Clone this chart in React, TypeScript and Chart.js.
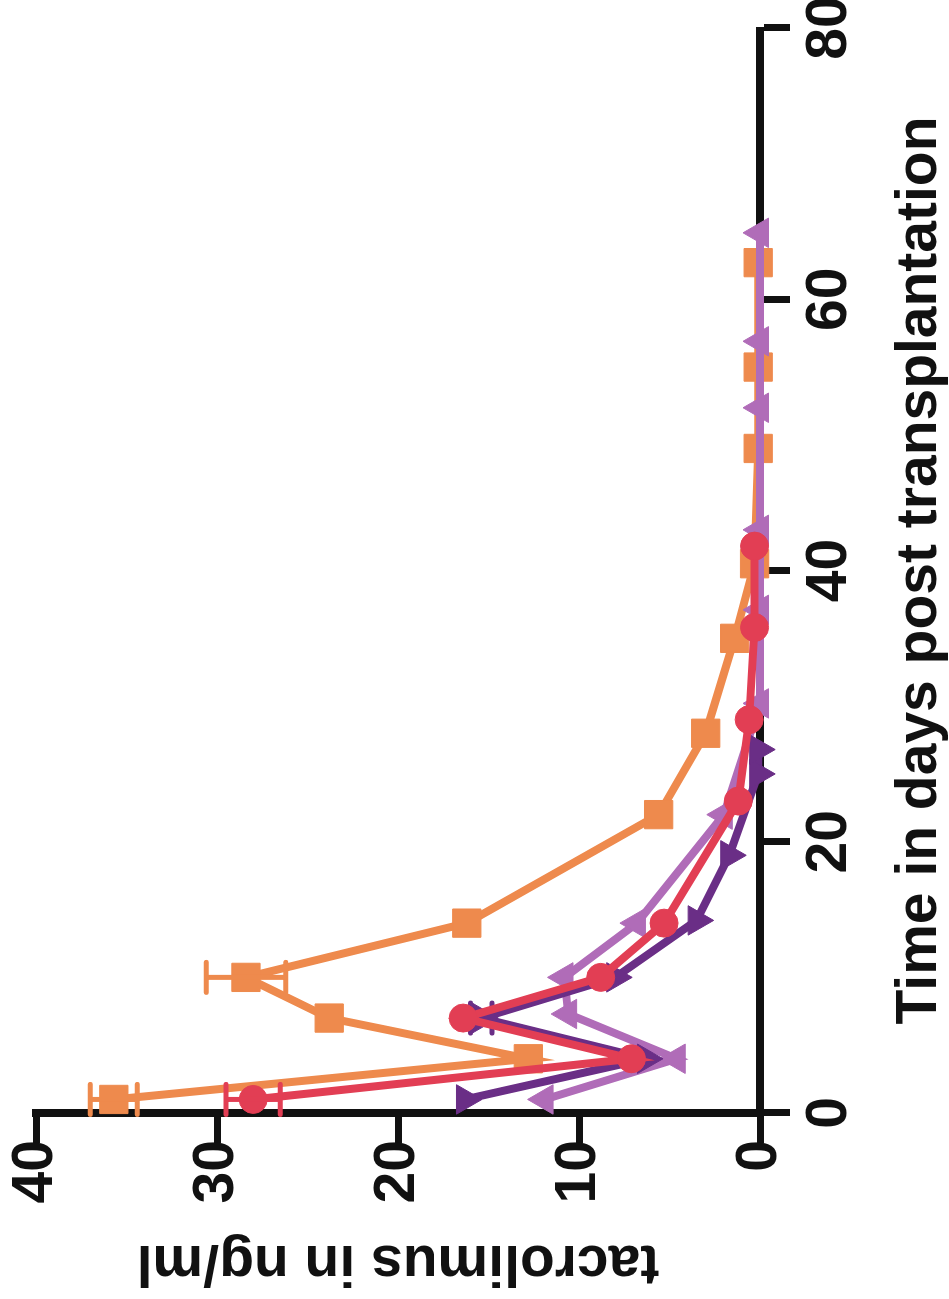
import { useEffect, useRef } from "react";
import { Chart, registerables } from "chart.js";

Chart.register(...registerables);

// ---- data (days post transplantation, tacrolimus ng/ml) ----
const orangeDays = [1, 4, 7, 10, 14, 22, 28, 35, 40.5, 49, 55, 62.7];
const orangeLevels = [35.7, 12.8, 23.8, 28.4, 16.2, 5.6, 3.0, 1.4, 0.3, 0.1, 0.1, 0.1];
const orangeErrors = [1.3, 0, 0, 2.2, 0, 0, 0, 0, 0, 0, 0, 0];

const redDays = [1, 4, 7, 10, 14, 23, 29, 35.8, 41.8];
const redLevels = [28.0, 7.1, 16.4, 8.8, 5.3, 1.2, 0.6, 0.3, 0.3];
const redErrors = [1.5, 0, 0, 0, 0, 0, 0, 0, 0];

const darkPurpleDays = [1, 4, 7, 10, 14.2, 19, 25, 26.8];
const darkPurpleLevels = [16.3, 6.3, 15.4, 8.0, 3.5, 1.7, 0.1, 0.1];
const darkPurpleErrors = [0, 0, 0.6, 0, 0, 0, 0, 0];

const lightPurpleDays = [1, 4, 7.3, 10, 14, 22, 30.2, 37.1, 43, 52, 56.9, 64.9];
const lightPurpleLevels = [11.9, 4.6, 10.6, 10.8, 6.8, 2.0, 0, 0, 0, 0, 0, 0];

const timeTicks = [0, 20, 40, 60, 80];
const levelTicks = [0, 10, 20, 30, 40];

const ORANGE = "#EE8A4D";
const RED = "#E23E54";
const DARK_PURPLE = "#6A2E86";
const LIGHT_PURPLE = "#B06CB8";
const INK = "#111111";
const FONT = { family: "'Liberation Sans', Arial, Helvetica, sans-serif", size: 57, weight: "bold" as const };

const toPoints = (xs: number[], ys: number[]) => xs.map((x, i) => ({ x, y: ys[i] }));

const errorBarPlugin = {
  id: "errorBars",
  afterDatasetDraw(chart: any, args: any) {
    const ds = chart.data.datasets[args.index];
    if (!ds.errors) return;
    const yScale = chart.scales.y;
    const ctx = chart.ctx;
    ctx.save();
    ctx.strokeStyle = ds.borderColor;
    ctx.lineWidth = 5;
    ctx.lineCap = "round";
    args.meta.data.forEach((pt: any, i: number) => {
      const e = ds.errors[i];
      if (!e) return;
      const v = ds.data[i].y;
      const yTop = yScale.getPixelForValue(v + e);
      const yBot = yScale.getPixelForValue(v - e);
      const x = pt.x;
      ctx.beginPath();
      ctx.moveTo(x, yTop);
      ctx.lineTo(x, yBot);
      ctx.moveTo(x - 15, yTop);
      ctx.lineTo(x + 15, yTop);
      ctx.moveTo(x - 15, yBot);
      ctx.lineTo(x + 15, yBot);
      ctx.stroke();
    });
    ctx.restore();
  },
};

export default function App() {
  const canvasRef = useRef<HTMLCanvasElement | null>(null);

  useEffect(() => {
    if (!canvasRef.current) return;
    const common = {
      borderWidth: 8,
      tension: 0,
      clip: false as const,
      pointBorderWidth: 1,
      showLine: true,
    };
    const chart = new Chart(canvasRef.current, {
      type: "line",
      data: {
        datasets: [
          {
            ...common,
            label: "red",
            data: toPoints(redDays, redLevels),
            errors: redErrors,
            borderColor: RED,
            backgroundColor: RED,
            pointStyle: "circle",
            pointRadius: 14,
          } as any,
          {
            ...common,
            label: "darkPurple",
            data: toPoints(darkPurpleDays, darkPurpleLevels),
            errors: darkPurpleErrors,
            borderColor: DARK_PURPLE,
            backgroundColor: DARK_PURPLE,
            pointStyle: "triangle",
            pointRotation: 180,
            pointRadius: 17,
          } as any,
          {
            ...common,
            label: "lightPurple",
            data: toPoints(lightPurpleDays, lightPurpleLevels),
            borderColor: LIGHT_PURPLE,
            backgroundColor: LIGHT_PURPLE,
            pointStyle: "triangle",
            pointRadius: 17,
          } as any,
          {
            ...common,
            label: "orange",
            data: toPoints(orangeDays, orangeLevels),
            errors: orangeErrors,
            borderColor: ORANGE,
            backgroundColor: ORANGE,
            pointStyle: "rect",
            pointRadius: 20,
          } as any,
        ],
      },
      options: {
        animation: false,
        responsive: false,
        devicePixelRatio: 1,
        layout: { padding: { left: 0, top: 36, right: 28, bottom: 0 } },
        plugins: { legend: { display: false }, tooltip: { enabled: false } },
        scales: {
          x: {
            type: "linear",
            min: 0,
            max: 80,
            afterBuildTicks: (scale: any) => {
              scale.ticks = timeTicks.map((value) => ({ value }));
            },
            afterFit: (scale: any) => {
              scale.height = 189;
              scale.paddingLeft = 0;
              scale.paddingRight = 0;
            },
            ticks: { font: FONT, color: INK, padding: 6, maxRotation: 0, autoSkip: false },
            grid: { drawOnChartArea: false, drawTicks: true, tickLength: 30, tickWidth: 7, tickColor: INK },
            border: { display: true, width: 8, color: INK },
            title: {
              display: true,
              text: "Time in days post transplantation",
              font: FONT,
              color: INK,
              padding: { top: 0, bottom: -5 },
            },
          },
          y: {
            type: "linear",
            min: 0,
            max: 40,
            afterBuildTicks: (scale: any) => {
              scale.ticks = levelTicks.map((value) => ({ value }));
            },
            afterFit: (scale: any) => {
              scale.width = 186;
              scale.paddingTop = 0;
              scale.paddingBottom = 0;
            },
            ticks: { font: FONT, color: INK, padding: -3, autoSkip: false },
            grid: { drawOnChartArea: false, drawTicks: true, tickLength: 30, tickWidth: 7, tickColor: INK },
            border: { display: true, width: 8, color: INK },
            title: {
              display: true,
              text: "tacrolimus in ng/ml",
              font: FONT,
              color: INK,
              padding: { top: 3, bottom: 0 },
            },
          },
        },
      } as any,
      plugins: [errorBarPlugin],
    });
    return () => chart.destroy();
  }, []);

  return (
    <div
      style={{
        position: "fixed",
        left: 0,
        top: 0,
        width: 1299,
        height: 949,
        background: "#ffffff",
        transformOrigin: "0 0",
        transform: "translate(0px, 1299px) rotate(-90deg)",
      }}
    >
      <canvas ref={canvasRef} width={1299} height={949} style={{ display: "block", width: 1299, height: 949 }} />
    </div>
  );
}
